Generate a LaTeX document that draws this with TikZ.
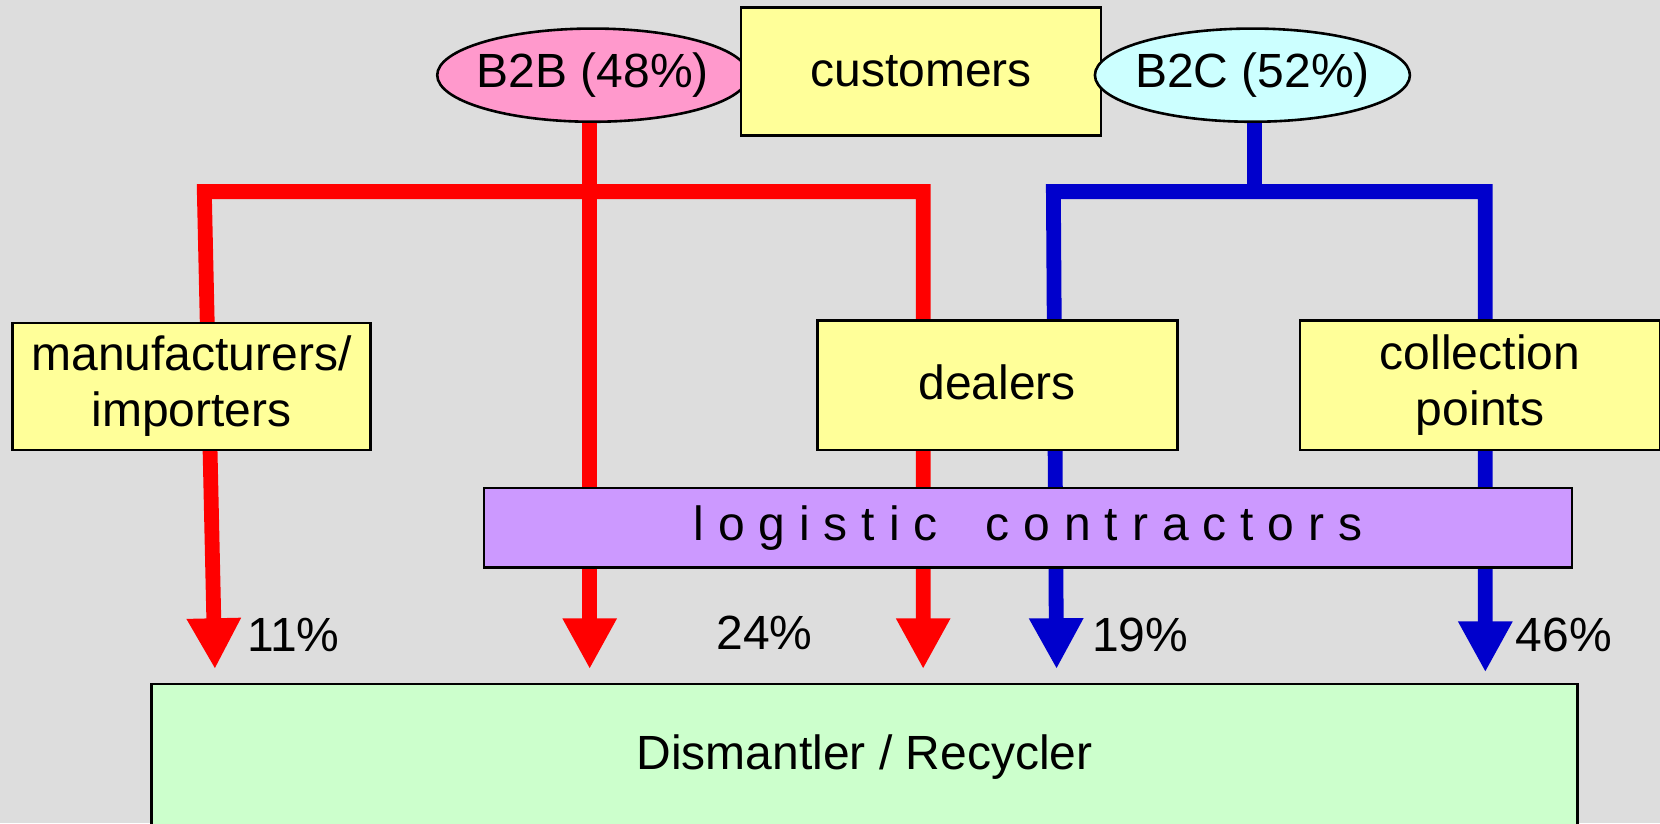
\documentclass[tikz,border=0pt]{standalone}
\usepackage{fontspec}
\setmainfont{Liberation Sans}
\usetikzlibrary{arrows.meta,shapes.geometric}
\definecolor{bg}{HTML}{DDDDDD}
\definecolor{pinkf}{HTML}{FF99CC}
\definecolor{cyanf}{HTML}{CCFFFF}
\definecolor{yellowf}{HTML}{FFFF99}
\definecolor{purplef}{HTML}{CC99FF}
\definecolor{greenf}{HTML}{CCFFCC}
\definecolor{redl}{HTML}{FF0000}
\definecolor{bluel}{HTML}{0000CC}
\begin{document}
\begin{tikzpicture}[x=0.52935pt,y=-0.52935pt,
  every node/.style={font=\fontsize{24}{28}\selectfont},
  box/.style={draw=black, line width=1.3pt, inner sep=0pt, align=center},
  yellowbox/.style={box, fill=yellowf, minimum width=180pt, minimum height=64.6pt},
  oval/.style={box, ellipse, inner xsep=-3pt, minimum width=153.5pt, minimum height=46.6pt},
  tipstyle/.style={arrows={-Triangle[width=25.4pt,length=25.4pt]}},
  twotips/.style={arrows={Triangle[width=25.4pt,length=25.4pt]-Triangle[width=25.4pt,length=25.4pt]}},
  bar/.style={line width=7.4pt, line join=miter},
  pct/.style={inner sep=0pt}
]
\fill[bg] (0,0) rectangle (1568,777.4);
\useasboundingbox (0,0) rectangle (1568,777.4);

% connector coordinates
\coordinate (tipA) at (203,632);
\coordinate (tipB) at (557,632);
\coordinate (tipC) at (872,632);
\coordinate (tipD) at (998,632);
\coordinate (tipE) at (1403,635);
\coordinate (rl) at (193,181);
\coordinate (rr) at (872,181);
\coordinate (rm) at (557,181);
\coordinate (bl) at (995,181);
\coordinate (br) at (1403,181);
\coordinate (bm) at (1185,181);

% nodes (top)
\node[oval, fill=pinkf] (b2b) at (560,71) {B2B (48\%)};
\node[yellowbox, minimum height=64pt] (cust) at (870,67.5) {customers};
\node[oval, fill=cyanf] (b2c) at (1183,71) {B2C (52\%)};

% connectors (behind the middle boxes)
\draw[bar, redl] (b2b.south -| rm) -- (rm);
\draw[bar, redl, tipstyle] (rm) -- (tipB);
\draw[bar, redl, twotips] (tipA) -- (rl) -- (rr) -- (tipC);
\draw[bar, bluel] (b2c.south -| bm) -- (bm);
\draw[bar, bluel, twotips] (tipD) -- (bl) -- (br) -- (tipE);

% middle boxes
\node[yellowbox, minimum width=179pt, minimum height=63.5pt] (manu) at (181,365) {manufacturers/\\importers};
\node[yellowbox] (deal) at (942,364) {\raisebox{3pt}{dealers}};
\node[yellowbox] (coll) at (1398,364) {collection\\points};
\node[box, fill=purplef, minimum width=544pt, minimum height=39.7pt] (logi) at (971,498.5)
  {\addfontfeature{LetterSpace=29}logistic\hspace{24pt}contractors};

% percentages
\node[pct] (p11) at (277,600) {11\%};
\node[pct] (p24) at (722,598) {24\%};
\node[pct] (p19) at (1077,600) {19\%};
\node[pct] (p46) at (1477,600) {46\%};

% bottom
\node[box, fill=greenf, minimum width=713pt, minimum height=106pt, anchor=north] (dism) at (816.5,645) {};
\node (dismtxt) at (816.5,715) {Dismantler / Recycler};
\end{tikzpicture}
\end{document}
